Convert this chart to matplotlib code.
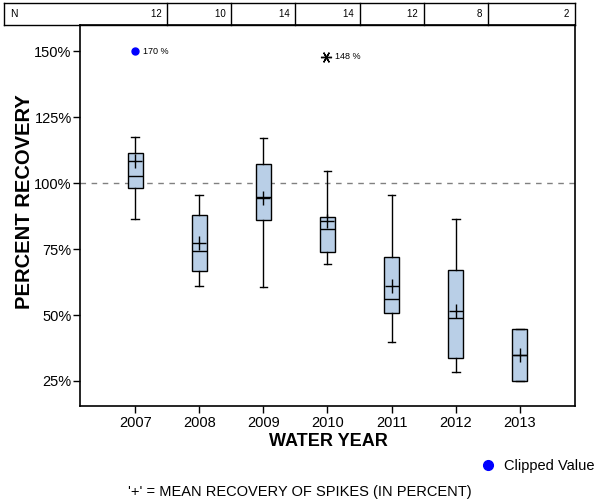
import matplotlib
matplotlib.use("Agg")
import matplotlib.pyplot as plt
import matplotlib.transforms as mtransforms

# ── Data ──────────────────────────────────────────────────────────────────────
years      = [2007, 2008, 2009, 2010, 2011, 2012, 2013]
n_samples  = [12, 10, 14, 14, 12, 8, 2]
whis_lo    = [86.6, 61.2, 60.5, 69.2, 39.7, 28.3, 25.0]
q1         = [98.0, 66.7, 86.2, 73.8, 50.6, 33.6, 25.0]
medians    = [102.9, 74.1, 94.7, 82.8, 55.9, 48.7, 34.7]
q3         = [111.6, 87.8, 107.1, 87.0, 72.2, 66.9, 44.6]
whis_hi    = [117.7, 95.6, 117.3, 104.8, 95.7, 86.6, 44.6]
means      = [108.3, 77.2, 94.4, 85.7, 61.2, 51.6, 34.7]

clipped_year, clipped_plot, clipped_label = 2007, 150.0, "170 %"
outlier_year, outlier_val, outlier_label = 2010, 148.0, "148 %"

y_ticks  = [25, 50, 75, 100, 125, 150]

BOX_CLR = "#b9cfe7"
plt.rcParams["font.family"] = ["Liberation Sans", "DejaVu Sans"]

# ── Figure ────────────────────────────────────────────────────────────────────
fig = plt.figure(figsize=(6, 5), dpi=100)
ax = fig.add_axes([80 / 600, 94 / 500, 495 / 600, 381 / 500])

stats = []
for i in range(len(years)):
    stats.append({"whislo": whis_lo[i], "q1": q1[i], "med": medians[i],
                  "q3": q3[i], "whishi": whis_hi[i], "mean": means[i],
                  "fliers": []})

ax.bxp(stats, positions=years, widths=0.23, showmeans=True, patch_artist=True,
       boxprops=dict(facecolor=BOX_CLR, edgecolor="black", linewidth=1),
       medianprops=dict(color="black", linewidth=1),
       whiskerprops=dict(color="black", linewidth=1),
       capprops=dict(color="black", linewidth=1),
       meanprops=dict(marker="+", markersize=10, markeredgecolor="black",
                      markeredgewidth=1),
       capwidths=0.12, manage_ticks=False)

ax.axhline(100, color="#808080", linestyle=(0, (4, 4)), linewidth=1, zorder=0)

# clipped value and outlier
ax.plot(clipped_year, clipped_plot, "o", color="#0000ff", markersize=5)
ax.text(clipped_year + 0.12, clipped_plot, clipped_label, fontsize=6.5,
        va="center", ha="left")
ax.plot(outlier_year - 0.03, outlier_val, marker=(6, 2, 90), color="black",
        markersize=8, markeredgewidth=1)
ax.text(outlier_year + 0.11, outlier_val, outlier_label, fontsize=6.5,
        va="center", ha="left")

ax.set_xlim(2006.14, 2013.86)
ax.set_ylim(15.5, 160)
ax.set_xticks(years)
ax.set_xticklabels([str(y) for y in years], fontsize=10.5)
ax.set_yticks(y_ticks)
ax.set_yticklabels([f"{v}%" for v in y_ticks], fontsize=10.5)
ax.tick_params(direction="out", length=5, width=1)
ax.tick_params(axis="x", pad=2)
ax.tick_params(axis="y", pad=1)
for s in ax.spines.values():
    s.set_linewidth(1.2)

fig.text(328 / 600, 1 - 441 / 500, "WATER YEAR", fontsize=13,
         fontweight="bold", ha="center", va="center")
fig.text(25 / 600, 1 - 202 / 500, "PERCENT RECOVERY", fontsize=14.5,
         fontweight="bold", ha="center", va="center", rotation=90)

# ── N table across the top ───────────────────────────────────────────────────
trans = mtransforms.blended_transform_factory(ax.transData, fig.transFigure)
top, bot = 1 - 3 / 500, 1 - 25 / 500
left_fig, right_fig = 4 / 600, 575 / 600
fig.add_artist(plt.Line2D([left_fig, right_fig], [top, top], color="black", lw=1))
fig.add_artist(plt.Line2D([left_fig, right_fig], [bot, bot], color="black", lw=1))
fig.add_artist(plt.Line2D([left_fig, left_fig], [bot, top], color="black", lw=1))
fig.add_artist(plt.Line2D([right_fig, right_fig], [bot, top], color="black", lw=1))
for y in years[:-1]:
    fig.add_artist(plt.Line2D([y + 0.5, y + 0.5], [bot, top], color="black",
                              lw=1, transform=trans))
fig.text(10 / 600, (top + bot) / 2, "N", fontsize=7.5, va="center", ha="left")
for i, y in enumerate(years):
    x_right = y + 0.5 if i < len(years) - 1 else 2013.86
    ax.text(x_right, (top + bot) / 2, f"{n_samples[i]}  ", fontsize=7,
            va="center", ha="right", transform=trans)

# ── Legend / footnote ─────────────────────────────────────────────────────────
fig.add_artist(plt.Line2D([488 / 600], [1 - 465 / 500], marker="o",
                          color="#0000ff", markersize=7, linestyle="none"))
fig.text(504 / 600, 1 - 466 / 500, "Clipped Value", fontsize=10.5,
         ha="left", va="center")
fig.text(300 / 600, 1 - 492 / 500, "'+' = MEAN RECOVERY OF SPIKES (IN PERCENT)",
         fontsize=10.5, ha="center", va="center")

fig.savefig("out.png", dpi=100)
